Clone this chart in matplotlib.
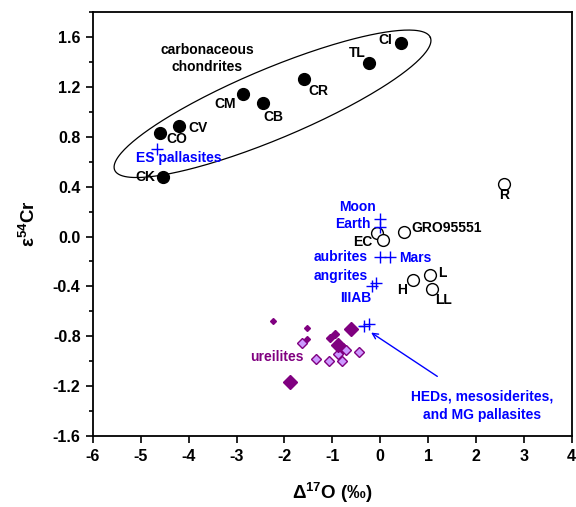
import matplotlib
matplotlib.use("Agg")
import matplotlib.pyplot as plt
import numpy as np

plt.rcParams['font.family'] = ['Liberation Sans', 'DejaVu Sans']
plt.rcParams['font.weight'] = 'bold'
plt.rcParams['axes.unicode_minus'] = False
plt.rcParams['mathtext.fontset'] = 'custom'
plt.rcParams['mathtext.rm'] = 'Liberation Sans:bold'
plt.rcParams['mathtext.bf'] = 'Liberation Sans:bold'

# carbonaceous chondrites (filled circles)
cc_names = ['CI', 'TL', 'CR', 'CM', 'CB', 'CV', 'CO', 'CK']
cc_x = [0.44, -0.24, -1.60, -2.86, -2.45, -4.20, -4.60, -4.53]
cc_y = [1.55, 1.39, 1.26, 1.14, 1.07, 0.885, 0.83, 0.48]

# non-carbonaceous chondrites (open circles)
oc_names = ['EC', 'EC2', 'GRO95551', 'H', 'L', 'LL', 'R']
oc_x = [-0.06, 0.05, 0.49, 0.68, 1.03, 1.08, 2.58]
oc_y = [0.03, -0.025, 0.035, -0.345, -0.305, -0.42, 0.42]

# differentiated bodies (crosses)
cr_names = ['Moon', 'Earth', 'aubrites', 'Mars', 'angrites', 'IIIAB', 'HED', 'MG pallasites', 'ES pallasites']
cr_x = [0.0, 0.0, -0.01, 0.21, -0.08, -0.17, -0.33, -0.24, -4.67]
cr_y = [0.14, 0.075, -0.165, -0.165, -0.37, -0.40, -0.72, -0.70, 0.70]

# ureilites
ur_small_x = [-2.25, -1.52, -1.52]
ur_small_y = [-0.68, -0.73, -0.82]
ur_mid_x = [-1.05, -0.94]
ur_mid_y = [-0.81, -0.78]
ur_big_x = [-0.61, -0.89, -1.89]
ur_big_y = [-0.74, -0.87, -1.17]
ur_light_x = [-1.64, -1.34, -1.06, -0.80, -0.89, -0.77, -0.71, -0.44]
ur_light_y = [-0.85, -0.98, -1.00, -1.00, -0.94, -0.89, -0.91, -0.93]

y_ticks = [-1.6, -1.2, -0.8, -0.4, 0.0, 0.4, 0.8, 1.2, 1.6]
x_ticks = [-6, -5, -4, -3, -2, -1, 0, 1, 2, 3, 4]

fig = plt.figure(figsize=(5.76, 5.07), dpi=100)
ax = fig.add_axes([0.1615, 0.140, 0.831, 0.836])

# ellipse around the carbonaceous chondrites, drawn in pixel units then scaled
sx, sy = 47.8, 124.6
t = np.linspace(0, 2 * np.pi, 300)
a, b, ang = 171.0, 35.0, np.deg2rad(22.8)
ex = a * np.cos(t) * np.cos(ang) - b * np.sin(t) * np.sin(ang)
ey = a * np.cos(t) * np.sin(ang) + b * np.sin(t) * np.cos(ang)
ax.plot(-2.25 + ex / sx, 1.065 + ey / sy, color='black', lw=0.9)

ax.plot(cc_x, cc_y, 'o', color='black', ms=8.5, ls='none')
ax.plot(oc_x, oc_y, 'o', mfc='white', mec='black', mew=1.0, ms=8.5, ls='none')
ax.errorbar([-0.33], [-0.72], xerr=[[0.12], [0.0]], color='blue', lw=1, ls='none')
ax.plot(cr_x, cr_y, '+', color='blue', ms=9, mew=1.0, ls='none')

purple = '#800080'
ax.plot(ur_light_x, ur_light_y, 'D', mfc='#CC99FF', mec=purple, mew=1.0, ms=5.6, ls='none')
ax.plot(ur_small_x, ur_small_y, 'D', color=purple, ms=3, ls='none')
ax.plot(ur_mid_x, ur_mid_y, 'D', color=purple, ms=4.2, ls='none')
ax.plot(ur_big_x, ur_big_y, 'D', color=purple, ms=7, ls='none')

fs = 10
kw = dict(fontsize=fs, fontweight='bold', ha='center', va='center')
ax.text(-3.62, 1.43, 'carbonaceous\nchondrites', linespacing=1.3, **kw)
cc_lab = {'CI': (0.10, 1.58), 'TL': (-0.49, 1.47), 'CR': (-1.29, 1.17),
          'CM': (-3.24, 1.065), 'CB': (-2.23, 0.96), 'CV': (-3.80, 0.87),
          'CO': (-4.25, 0.78), 'CK': (-4.90, 0.48)}
for n, (x, y) in cc_lab.items():
    ax.text(x, y, n, **kw)
oc_lab = {'EC': (-0.36, -0.045), 'GRO95551': (1.39, 0.07), 'H': (0.45, -0.43),
          'L': (1.29, -0.29), 'LL': (1.33, -0.51), 'R': (2.58, 0.33)}
for n, (x, y) in oc_lab.items():
    ax.text(x, y, n, **kw)
cr_lab = {'Moon': (-0.47, 0.24), 'Earth': (-0.57, 0.10), 'aubrites': (-0.82, -0.166),
          'Mars': (0.73, -0.17), 'angrites': (-0.83, -0.32), 'IIIAB': (-0.52, -0.49),
          'ES pallasites': (-4.20, 0.63)}
for n, (x, y) in cr_lab.items():
    ax.text(x, y, n, color='blue', **kw)
ax.text(-2.16, -0.97, 'ureilites', color=purple, **kw)

ax.annotate('HEDs, mesosiderites,\nand MG pallasites', xy=(-0.19, -0.77), xytext=(2.13, -1.36),
            color='blue', fontsize=fs, fontweight='bold', ha='center', va='center', linespacing=1.4,
            arrowprops=dict(arrowstyle='->', color='blue', lw=1, shrinkA=14, shrinkB=0))

ax.set_xlim(-6, 4)
ax.set_ylim(-1.6, 1.8)
ax.set_xticks(x_ticks)
ax.set_xticklabels([str(v) for v in x_ticks])
ax.set_yticks(y_ticks)
ax.set_yticks(np.arange(-1.6, 1.81, 0.2), minor=True)
ax.set_yticklabels(['%.1f' % v for v in y_ticks])
ax.tick_params(axis='both', which='major', direction='out', length=5, width=1.2, labelsize=11.5, pad=4)
ax.tick_params(axis='y', which='minor', direction='out', length=3, width=1.2)
ax.tick_params(top=False, right=False)
for s in ax.spines.values():
    s.set_linewidth(1.3)
for lab in ax.get_xticklabels() + ax.get_yticklabels():
    lab.set_fontweight('bold')

ax.set_xlabel('Δ$^{17}$O (‰)', fontsize=13.5, fontweight='bold', labelpad=12)
ax.set_ylabel('ε$^{54}$Cr', fontsize=13.5, fontweight='bold', labelpad=10)

fig.savefig('out.png', dpi=100)
